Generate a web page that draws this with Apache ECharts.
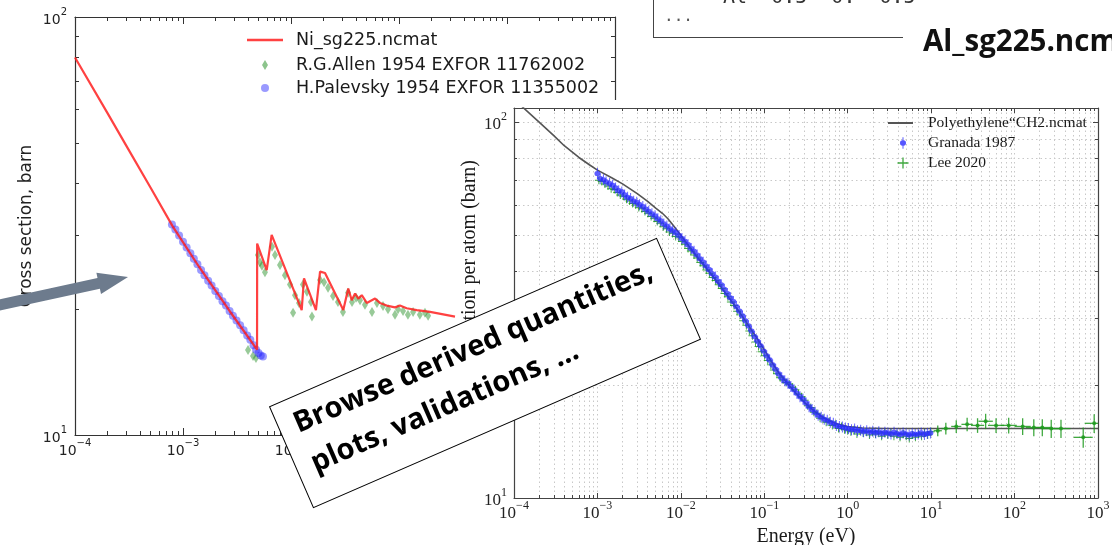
<!DOCTYPE html>
<html><head><meta charset="utf-8">
<script src="https://cdn.jsdelivr.net/npm/echarts@6/dist/echarts.min.js"></script>
<style>html,body{margin:0;padding:0;background:#fff;overflow:hidden}#c{width:1112px;height:545px}</style>
</head><body><div id="c"></div>
<script>
// ---------- Left panel: Ni_sg225 ----------
const niLineE = [1e-4, 2e-4, 3e-4, 5e-4, 8e-4, 1.4e-3, 2.7e-3, 4.85e-3, 4.86e-3, 5.96e-3, 6.62e-3, 0.01256, 0.0132, 0.01702, 0.01858, 0.02065, 0.0305, 0.0339, 0.0365, 0.0392, 0.0420, 0.0452, 0.0503, 0.060, 0.0667, 0.0769, 0.0918, 0.102, 0.1178, 0.146, 0.194, 0.330];
const niLineS = [80, 58.9, 49.1, 39.1, 31.6, 25.3, 19.8, 16.0, 28.7, 24.8, 30.1, 19.9, 23.7, 19.9, 24.6, 24.4, 19.9, 22.4, 21.0, 21.8, 21.2, 21.6, 20.7, 21.2, 20.7, 20.4, 20.2, 20.4, 20.1, 19.9, 19.7, 19.2];
const allenE = [4.0e-3, 4.45e-3, 4.74e-3, 4.94e-3, 5.16e-3, 5.38e-3, 5.74e-3, 6.67e-3, 7.11e-3, 7.91e-3, 8.79e-3, 9.79e-3, 0.01045, 0.01089, 0.01186, 0.01291, 0.01406, 0.01531, 0.01563, 0.01858, 0.02024, 0.02203, 0.02449, 0.02722, 0.03027, 0.03373, 0.03673, 0.0400, 0.04355, 0.04842, 0.05623, 0.06252, 0.07112, 0.0791, 0.0918, 0.098, 0.109, 0.121, 0.135, 0.156, 0.174, 0.186];
const allenS = [15.97, 15.45, 15.28, 26.96, 25.9, 25.4, 24.5, 28.2, 26.96, 25.5, 24.1, 22.9, 19.6, 21.6, 20.7, 22.9, 22.0, 20.8, 19.2, 23.5, 23.2, 22.5, 21.5, 20.8, 19.7, 21.9, 20.8, 21.3, 21.0, 20.5, 19.7, 20.7, 20.35, 20.0, 19.4, 20.0, 19.8, 19.4, 19.7, 19.4, 19.6, 19.3];
const palevskyE = [7.9e-4, 8.5e-4, 9.2e-4, 1.0e-3, 1.08e-3, 1.17e-3, 1.26e-3, 1.36e-3, 1.47e-3, 1.58e-3, 1.71e-3, 1.84e-3, 1.99e-3, 2.15e-3, 2.32e-3, 2.5e-3, 2.7e-3, 2.9e-3, 3.13e-3, 3.38e-3, 3.64e-3, 3.93e-3, 4.2e-3, 4.5e-3, 4.75e-3, 5.0e-3, 5.25e-3, 5.5e-3];
const palevskyS = [31.9, 31.0, 30.0, 29.0, 28.1, 27.2, 26.4, 25.6, 24.8, 24.1, 23.4, 22.8, 22.1, 21.5, 20.9, 20.4, 19.8, 19.3, 18.8, 18.3, 17.8, 17.3, 16.9, 16.4, 16.0, 15.7, 15.5, 15.4];

// ---------- Right panel: Polyethylene_CH2 ----------
const peModelE = [1e-4, 1.5e-4, 2e-4, 3e-4, 4e-4, 6e-4, 8e-4, 1e-3, 1.5e-3, 2e-3, 3e-3, 4e-3, 5e-3, 6e-3, 7e-3, 8e-3, 1e-2, 1.3e-2, 1.6e-2, 2e-2, 2.5e-2, 3e-2, 4e-2, 5e-2, 6e-2, 7e-2, 8e-2, 0.1, 0.12, 0.15, 0.2, 0.25, 0.3, 0.4, 0.5, 0.7, 1, 1.5, 3, 10, 1000];
const peModelS = [115, 106, 100, 92, 86.5, 80.5, 77, 74.5, 71, 68.5, 64.5, 61.5, 59, 57.2, 55.3, 53.3, 50, 46.2, 43.5, 41, 38.5, 36.5, 33.5, 31.3, 29.5, 28, 26.8, 24.8, 23.2, 21.5, 19.9, 18.8, 18.0, 17.0, 16.4, 15.8, 15.5, 15.35, 15.3, 15.3, 15.3];
const granadaE = [0.00100,0.00108,0.00118,0.00127,0.00140,0.00152,0.00165,0.00180,0.00196,0.00212,0.00230,0.00250,0.00272,0.00296,0.00320,0.00350,0.00380,0.00412,0.00450,0.00490,0.00530,0.00575,0.00625,0.00680,0.00740,0.00800,0.00870,0.00950,0.0103,0.0112,0.0122,0.0133,0.0144,0.0157,0.0170,0.0185,0.0201,0.0219,0.0238,0.0259,0.0281,0.0305,0.0332,0.0361,0.0392,0.0426,0.0463,0.0504,0.0548,0.0595,0.0647,0.0704,0.0765,0.0832,0.0904,0.0983,0.107,0.116,0.126,0.137,0.149,0.162,0.176,0.192,0.208,0.227,0.246,0.268,0.291,0.317,0.344,0.374,0.407,0.442,0.481,0.523,0.568,0.618,0.672,0.730,0.794,0.863,0.938,1.02,1.11,1.21,1.31,1.43,1.55,1.69,1.84,2.00,2.17,2.36,2.57,2.79,3.04,3.30,3.59,3.90,4.24,4.61,5.01,5.45,5.93,6.44,7.0,7.6,8.3,9.0,9.8];
const granadaS = [73.0,70.7,70.2,69.4,68.6,67.9,66.8,65.7,65.2,64.0,63.1,62.6,61.6,61.2,60.3,59.6,58.7,57.9,57.0,56.3,55.3,54.6,53.6,52.9,52.0,51.4,50.8,49.9,49.0,48.2,47.2,46.1,45.3,44.3,43.3,42.4,41.4,40.5,39.5,38.7,37.7,36.9,35.9,35.0,34.1,33.3,32.3,31.4,30.5,29.6,28.7,27.8,26.9,26.1,25.4,24.6,23.9,23.3,22.6,22.0,21.4,20.9,20.5,20.2,19.8,19.4,19.0,18.6,18.3,17.9,17.5,17.2,16.9,16.6,16.4,16.2,16.1,15.9,15.8,15.6,15.5,15.45,15.35,15.3,15.2,15.25,15.1,15.15,15.0,15.1,14.95,15.05,14.9,15.0,14.85,14.95,14.9,14.8,14.95,14.85,14.75,14.9,14.8,14.7,14.85,14.75,14.8,14.9,14.75,14.85,14.9];
const leeE = [0.00104,0.00113,0.00123,0.00134,0.00146,0.00159,0.00173,0.00188,0.00205,0.00223,0.00243,0.00264,0.00288,0.00313,0.00341,0.00371,0.00404,0.00440,0.00479,0.00521,0.00567,0.00617,0.00672,0.00731,0.00796,0.00866,0.00943,0.0103,0.0112,0.0122,0.0132,0.0144,0.0157,0.0171,0.0186,0.0202,0.0220,0.0240,0.0261,0.0284,0.0309,0.0336,0.0366,0.0398,0.0434,0.0472,0.0514,0.0559,0.0609,0.0662,0.0721,0.0785,0.0854,0.0930,0.101,0.110,0.120,0.130,0.142,0.155,0.168,0.183,0.199,0.217,0.236,0.257,0.280,0.305,0.332,0.361,0.393,0.428,0.466,0.507,0.552,0.601,0.654,0.712,0.775,0.843,0.918,1.00,1.09,1.19,1.29,1.41,1.53,1.67,1.82,1.98,2.15,2.34,2.55,2.78,3.02,3.29,3.58,3.90,4.24,4.62,5.03,5.47,5.96,6.48,7.06,7.68,8.36,9.10,9.9];
const leeS = [70.0,69.5,68.4,67.6,66.5,66.2,65.0,64.0,63.5,62.3,61.7,60.7,60.2,59.3,58.8,57.8,57.2,56.1,55.5,54.4,53.8,52.7,52.0,51.0,50.5,49.6,49.2,48.1,47.3,46.1,45.4,44.3,43.5,42.3,41.5,40.4,39.6,38.6,37.9,36.9,36.1,35.0,34.3,33.2,32.5,31.4,30.7,29.6,28.8,27.8,27.0,26.0,25.3,24.5,23.9,23.2,22.6,21.9,21.4,20.9,20.6,20.3,20.1,19.7,19.4,18.9,18.6,18.2,17.6,17.4,16.9,16.8,16.3,16.3,15.9,16.0,15.6,15.7,15.3,15.5,15.2,15.1,15.0,15.2,14.8,15.1,14.9,15.0,14.7,15.0,14.8,15.0,14.6,14.9,14.7,14.9,14.6,14.8,14.5,14.8,14.6,14.4,14.7,14.5,14.8,14.6,14.9,14.7,15.0];
const leeHiE = [12, 15, 20, 27, 36, 45, 60, 85, 125, 170, 215, 275, 360, 665, 900];
const leeHiS = [15.1, 15.3, 15.5, 15.7, 15.6, 16.0, 15.6, 15.6, 15.5, 15.4, 15.4, 15.3, 15.3, 14.5, 15.8];
const leeHiSErr = [0.5, 0.55, 0.6, 0.65, 0.7, 0.75, 0.7, 0.75, 0.8, 0.8, 0.8, 0.85, 0.85, 0.9, 0.9];
const leeHiEFac = [1.12, 1.13, 1.15, 1.17, 1.2, 1.22, 1.25, 1.25, 1.25, 1.25, 1.25, 1.25, 1.3, 1.3, 1.3];

const xTickExp = v => Math.round(Math.log10(v));
const supFmt = v => { const n = xTickExp(v); return '{b|10}{s|' + (n < 0 ? '\u2212' + (-n) : n) + '}'; };
const pairs = (a, b) => a.map((x, i) => [x, b[i]]);

const sansRich = {
  b: {fontFamily: 'DejaVu Sans', fontSize: 14, color: '#222', lineHeight: 20, verticalAlign: 'bottom'},
  s: {fontFamily: 'DejaVu Sans', fontSize: 10, color: '#222', lineHeight: 20, verticalAlign: 'top'}
};
const serifRich = {
  b: {fontFamily: 'Liberation Serif', fontSize: 17, color: '#222', lineHeight: 22, verticalAlign: 'bottom'},
  s: {fontFamily: 'Liberation Serif', fontSize: 12, color: '#222', lineHeight: 22, verticalAlign: 'top'}
};

function axisBase(opts) {
  const c = opts.color;
  return Object.assign({
    type: 'log', logBase: 10,
    axisLine: {show: true, onZero: false, lineStyle: {color: c, width: 1.2}},
    axisTick: {show: true, inside: true, length: opts.major, lineStyle: {color: c, width: 1}},
    minorTick: {show: true, splitNumber: 9, length: opts.minor, lineStyle: {color: c, width: 1}},
    splitLine: {show: false},
    minorSplitLine: {show: false},
    axisLabel: {show: false},
    z: opts.z
  }, opts.extra || {});
}

const gridLine = {show: true, lineStyle: {color: '#c8c8c8', type: [1.5, 3], width: 1}};

const chart = echarts.init(document.getElementById('c'), null, {renderer: 'canvas', width: 1112, height: 545});

const granadaIcon = 'path://M4.5,0h1v3.2a2.6,2.8 0 0 1 0,5.6v3.2h-1v-3.2a2.6,2.8 0 0 1 0,-5.6z';
const plusIcon = 'path://M0,4.4h10v1.2h-10z M4.4,0h1.2v10h-1.2z';

function legend(name, icon, color, opacity, left, top, w, h, pad, font, size, z) {
  return {
    data: [{name: name, icon: icon, itemStyle: {color: color, opacity: opacity}}],
    left: left, top: top, orient: 'vertical', padding: 0,
    itemWidth: w, itemHeight: h, selectedMode: false, z: z,
    textStyle: {fontFamily: font, fontSize: size, color: '#1a1a1a', lineHeight: 20, padding: [0, 0, 0, pad]}
  };
}

const option = {
  animation: false,
  backgroundColor: '#fff',
  grid: [
    {left: 75, right: 1112 - 615, top: 17, bottom: 545 - 435, containLabel: false, outerBoundsMode: 'none', z: 0},
    {left: 514, right: 1112 - 1098, top: 108, bottom: 545 - 498, containLabel: false, outerBoundsMode: 'none', z: 10}
  ],
  xAxis: [
    axisBase({color: '#333', major: 7, minor: 4, z: 0, extra: {gridIndex: 0, min: 1e-4, max: 10, position: 'bottom',
      axisLabel: {show: true, formatter: supFmt, margin: 3, rich: sansRich}}}),
    axisBase({color: '#333', major: 7, minor: 4, z: 0, extra: {gridIndex: 0, min: 1e-4, max: 10, position: 'top'}}),
    axisBase({color: '#444', major: 5, minor: 3, z: 10, extra: {gridIndex: 1, min: 1e-4, max: 1000, position: 'bottom',
      splitLine: gridLine, minorSplitLine: gridLine,
      name: 'Energy (eV)', nameLocation: 'middle', nameGap: 23,
      nameTextStyle: {fontFamily: 'Liberation Serif', fontSize: 20, color: '#1a1a1a'},
      axisLabel: {show: true, formatter: supFmt, margin: 2, rich: serifRich}}}),
    axisBase({color: '#444', major: 5, minor: 3, z: 10, extra: {gridIndex: 1, min: 1e-4, max: 1000, position: 'top'}})
  ],
  yAxis: [
    axisBase({color: '#333', major: 7, minor: 4, z: 0, extra: {gridIndex: 0, min: 10, max: 100, position: 'left',
      name: 'Cross section, barn', nameLocation: 'middle', nameGap: 40, nameRotate: 90,
      nameTextStyle: {fontFamily: 'DejaVu Sans', fontSize: 17, color: '#222'},
      axisLabel: {show: true, formatter: supFmt, margin: 8, rich: sansRich}}}),
    axisBase({color: '#333', major: 7, minor: 4, z: 0, extra: {gridIndex: 0, min: 10, max: 100, position: 'right'}}),
    axisBase({color: '#444', major: 5, minor: 3, z: 10, extra: {gridIndex: 1, min: 10, max: 109, position: 'left',
      splitLine: gridLine, minorSplitLine: gridLine,
      axisLabel: {show: true, formatter: supFmt, margin: 7, rich: serifRich}}}),
    axisBase({color: '#444', major: 5, minor: 3, z: 10, extra: {gridIndex: 1, min: 10, max: 109, position: 'right'}})
  ],
  legend: [
    legend('Ni_sg225.ncmat', 'rect', '#ff2020', 0.85, 247, 30, 36, 2.5, 8, 'DejaVu Sans', 17.5, 4),
    legend('R.G.Allen 1954 EXFOR 11762002', 'diamond', '#1a8a1a', 0.5, 262, 55, 6, 10, 23, 'DejaVu Sans', 17.5, 4),
    legend('H.Palevsky 1954 EXFOR 11355002', 'circle', '#2020ff', 0.45, 261, 78, 8, 8, 22, 'DejaVu Sans', 17.5, 4),
    legend('Polyethylene\u201cCH2.ncmat', 'rect', '#555', 1, 888, 113, 25, 2, 10, 'Liberation Serif', 15.5, 14),
    legend('Granada 1987', granadaIcon, '#2a2aff', 0.8, 900, 133, 6, 12, 17, 'Liberation Serif', 15.5, 14),
    legend('Lee 2020', plusIcon, '#1f9a1f', 0.85, 897.5, 153, 11, 11, 14.5, 'Liberation Serif', 15.5, 14)
  ],
  series: [
    {name: 'R.G.Allen 1954 EXFOR 11762002', type: 'scatter', xAxisIndex: 0, yAxisIndex: 0, z: 2,
      symbol: 'diamond', symbolSize: [6, 10], data: pairs(allenE, allenS),
      itemStyle: {color: '#1a8a1a', opacity: 0.45}},
    {name: 'H.Palevsky 1954 EXFOR 11355002', type: 'scatter', xAxisIndex: 0, yAxisIndex: 0, z: 2,
      symbol: 'circle', symbolSize: 8, data: pairs(palevskyE, palevskyS),
      itemStyle: {color: '#2020ff', opacity: 0.45}},
    {name: 'Ni_sg225.ncmat', type: 'line', xAxisIndex: 0, yAxisIndex: 0, z: 3,
      showSymbol: false, symbol: 'none', data: pairs(niLineE, niLineS),
      lineStyle: {color: '#ff2020', width: 2.2, opacity: 0.85}, itemStyle: {color: '#ff2020'}},
    {name: 'Polyethylene\u201cCH2.ncmat', type: 'line', xAxisIndex: 2, yAxisIndex: 2, z: 11,
      showSymbol: false, symbol: 'none', clip: true, data: pairs(peModelE, peModelS),
      lineStyle: {color: '#555', width: 1.6}, itemStyle: {color: '#555'}},
    {name: 'Lee 2020', type: 'scatter', xAxisIndex: 2, yAxisIndex: 2, z: 12,
      symbol: plusIcon, symbolSize: 8, data: pairs(leeE, leeS),
      itemStyle: {color: '#1f9a1f', opacity: 0.85}},
    {name: 'Granada 1987', type: 'scatter', xAxisIndex: 2, yAxisIndex: 2, z: 12,
      symbol: granadaIcon, symbolSize: [6, 11], data: pairs(granadaE, granadaS),
      itemStyle: {color: '#2a2aff', opacity: 0.75}},
    {name: 'Lee 2020', type: 'custom', xAxisIndex: 2, yAxisIndex: 2, z: 12, clip: true,
      data: leeHiE.map((e, i) => [e, leeHiS[i], leeHiSErr[i], leeHiEFac[i]]),
      encode: {x: 0, y: 1},
      renderItem: function (params, api) {
        const E = api.value(0), S = api.value(1), dS = api.value(2), f = api.value(3);
        const c = api.coord([E, S]);
        const t = api.coord([E, S + dS]), b = api.coord([E, S - dS]);
        const l = api.coord([E / f, S]), r = api.coord([E * f, S]);
        const st = {stroke: '#1f9a1f', lineWidth: 1.3, opacity: 0.85};
        return {type: 'group', children: [
          {type: 'line', shape: {x1: c[0], y1: t[1], x2: c[0], y2: b[1]}, style: st},
          {type: 'line', shape: {x1: l[0], y1: c[1], x2: r[0], y2: c[1]}, style: st},
          {type: 'circle', shape: {cx: c[0], cy: c[1], r: 2}, style: {fill: '#1f9a1f', opacity: 0.85}}
        ]};
      }}
  ],
  graphic: [
    // white backdrop of the overlaid right-hand figure
    {type: 'rect', left: 462, top: 100, shape: {width: 650, height: 445}, style: {fill: '#fff'}, z: 5, silent: true},
    // y-axis title of the right-hand figure
    {type: 'text', x: 470, y: 160, rotation: Math.PI / 2, z: 15, silent: true,
      style: {text: 'Cross section per atom (barn)', font: '20px "Liberation Serif"', fill: '#1a1a1a', align: 'right', verticalAlign: 'middle'}},
    // file listing snippet (top right)
    {type: 'line', shape: {x1: 653.5, y1: 0, x2: 653.5, y2: 37.5}, style: {stroke: '#444', lineWidth: 1}, z: 20, silent: true},
    {type: 'line', shape: {x1: 653, y1: 37.5, x2: 903, y2: 37.5}, style: {stroke: '#444', lineWidth: 1}, z: 20, silent: true},
    {type: 'text', x: 723, y: -2, z: 20, silent: true,
      style: {text: 'Al  0.5  0.  0.5', font: '20px "DejaVu Sans Mono"', fill: '#333', verticalAlign: 'middle'}},
    {type: 'text', x: 664, y: 17, z: 20, silent: true,
      style: {text: '...', font: '16px "DejaVu Sans Mono"', fill: '#555', verticalAlign: 'middle'}},
    {type: 'text', x: 923, y: 43, z: 20, silent: true,
      style: {text: 'Al_sg225.ncmat', font: 'bold 29.5px "Open Sans"', fill: '#111', verticalAlign: 'middle'}},
    // arrow
    {type: 'polygon', z: 20, silent: true,
      shape: {points: [[-6, 300.6], [97.5, 278], [96.4, 272.7], [128, 277], [101, 294.1], [99.9, 288.8], [-3.6, 311.4]]},
      style: {fill: '#6d7b8d'}},
    // rotated caption box
    {type: 'group', x: 485, y: 373, rotation: 23.5 * Math.PI / 180, z: 20, silent: true,
      children: [
        {type: 'rect', shape: {x: -211, y: -55, width: 422, height: 110}, style: {fill: '#fff', stroke: '#000', lineWidth: 1}, z: 20},
        {type: 'text', x: -195, y: -49, z: 21,
          style: {text: 'Browse derived quantities,\nplots, validations, ...', font: 'bold 29px "Open Sans"', fill: '#000',
            lineHeight: 43, verticalAlign: 'top', align: 'left'}}
      ]}
  ]
};
chart.setOption(option);
</script>
</body></html>
